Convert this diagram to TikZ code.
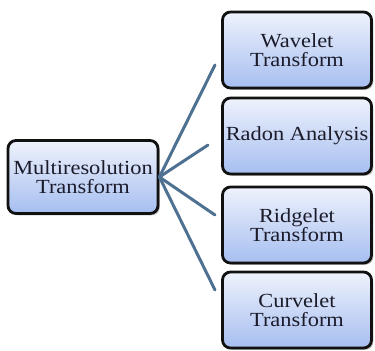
\documentclass[tikz,border=0pt]{standalone}
\usepackage{fontspec}
\setmainfont[FakeStretch=1.12]{Liberation Serif}
\usetikzlibrary{shadows}
\definecolor{ink}{HTML}{1B1B2A}
\definecolor{rim}{HTML}{111111}
\definecolor{washtop}{HTML}{EEF2FC}
\definecolor{washbot}{HTML}{A6BEF0}
\definecolor{steel}{HTML}{4E7192}
\tikzset{
  font=\fontsize{10}{9.6}\selectfont,
  %
  box/.style={
    draw=rim, line width=1.4pt, rounded corners=4pt,
    top color=washtop, bottom color=washbot, text=ink,
    align=center, inner sep=1pt, minimum width=74.5pt, minimum height=38pt,
    drop shadow={shadow xshift=0.9pt, shadow yshift=-0.9pt, opacity=0.55},
  },
  spoke/.style={draw=steel, line width=1.5pt, line cap=round},
}

\begin{document}
\begin{tikzpicture}[x=0.5pt, y=-0.5pt]
\useasboundingbox (0,0) rectangle (375,350);

% ------------------------------------------------------------------ root
\node[box, minimum width=75pt, minimum height=36.5pt] (mrt) at (83,177)
  {Multiresolution\\Transform};

% --------------------------------------------------------------- leaves
\node[box] (wav) at (297,50)  {Wavelet\\Transform};
\node[box] (rad) at (297,136) {Radon Analysis};
\node[box] (rdg) at (297,225) {Ridgelet\\Transform};
\node[box] (crv) at (297,310) {Curvelet\\Transform};

% spokes stop just short of the leaf boxes
\coordinate (e1) at (215,65);
\coordinate (e2) at (208,145);
\coordinate (e3) at (215,215);
\coordinate (e4) at (215,290);

\foreach \e in {e1,e2,e3,e4} { \draw[spoke] (mrt.east) -- (\e); }

\end{tikzpicture}
\end{document}
